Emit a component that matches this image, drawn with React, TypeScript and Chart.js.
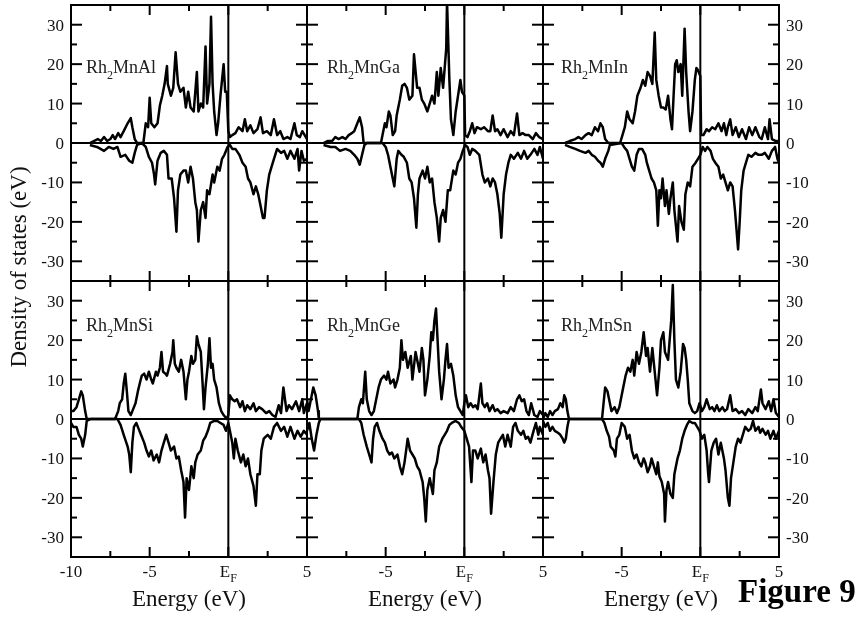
import React, { useEffect, useRef } from "react";
import { Chart, registerables } from "chart.js";

Chart.register(...registerables);

// ---------------- data (energy in eV, DOS) ----------------
const AL_UP: number[][] = [
  [-8.8, 0], [-8.55, 0.5], [-8.3, 1], [-8.1, 0.5], [-7.9, 1.5], [-7.7, 0.5], [-7.5, 1], [-7.35, 2], [-7.2, 1], [-7.0, 2.5],
  [-6.85, 1.5], [-6.65, 3], [-6.4, 5], [-6.2, 6.3], [-6.1, 4], [-5.95, 1], [-5.8, 0], [-5.4, 0], [-5.25, 5], [-5.1, 4],
  [-5.0, 11.5], [-4.9, 5], [-4.7, 4], [-4.5, 5], [-4.35, 9.5], [-4.2, 12], [-4.05, 15], [-3.9, 19.5], [-3.85, 15], [-3.65, 12],
  [-3.5, 14], [-3.35, 23], [-3.2, 15], [-3.05, 13], [-2.85, 14], [-2.7, 9], [-2.55, 13], [-2.4, 9], [-2.2, 8], [-2.0, 18],
  [-1.9, 8], [-1.75, 10], [-1.6, 9], [-1.45, 24.5], [-1.35, 10], [-1.2, 15], [-1.1, 32], [-1.0, 15], [-0.9, 8], [-0.75, 2],
  [-0.65, 5], [-0.5, 12], [-0.3, 20], [-0.2, 13], [-0.1, 13], [0, 3], [0.1, 1.5], [0.25, 2], [0.45, 2.5], [0.65, 4],
  [0.9, 3], [1.05, 6], [1.2, 3], [1.4, 4.5], [1.6, 2.5], [1.85, 3.5], [2.05, 6.5], [2.2, 2.5], [2.45, 3], [2.7, 2],
  [2.9, 6], [3.1, 2], [3.3, 3], [3.5, 1], [3.75, 1.5], [3.95, 1], [4.2, 5], [4.35, 2], [4.55, 1.5], [4.7, 3], [5, 1],
];
const AL_DN: number[][] = [
  [-8.8, -0.5], [-8.35, -1], [-7.9, -2], [-7.6, -1], [-7.3, -1.5], [-7.05, -1], [-6.85, -3.5], [-6.55, -3], [-6.3, -4.5], [-6.1, -5],
  [-5.95, -2.5], [-5.8, -0.5], [-5.5, 0], [-5.25, -1], [-5.05, -3.5], [-4.85, -5], [-4.72, -8], [-4.65, -10.5], [-4.5, -4.5], [-4.3, -2.5],
  [-4.1, -2], [-3.9, -3], [-3.8, -9], [-3.6, -9], [-3.45, -14], [-3.3, -22.5], [-3.2, -12], [-3.05, -8], [-2.85, -7], [-2.7, -7],
  [-2.55, -10], [-2.4, -6], [-2.25, -9], [-2.1, -15], [-2.0, -17], [-1.9, -25], [-1.75, -17], [-1.6, -15], [-1.45, -19], [-1.35, -12],
  [-1.2, -13], [-1.0, -8], [-0.9, -10], [-0.7, -6], [-0.55, -7], [-0.4, -4], [-0.25, -3], [-0.05, -1], [0.1, -0.5], [0.25, -1.5],
  [0.45, -1.5], [0.7, -3], [0.9, -5], [1.1, -6], [1.25, -9], [1.4, -10], [1.6, -13], [1.75, -11], [1.9, -13], [2.05, -16],
  [2.2, -19], [2.3, -19], [2.45, -12], [2.6, -8], [2.75, -6], [2.9, -4], [3.1, -1.5], [3.35, -2.5], [3.55, -2], [3.75, -4],
  [3.95, -2], [4.2, -4], [4.4, -1.5], [4.5, -7], [4.65, -2], [4.8, -4.5], [5, -4],
];
const GA_UP: number[][] = [
  [-8.95, 0], [-8.7, 0.5], [-8.4, 0.5], [-8.2, 1.5], [-8.0, 1], [-7.75, 1.5], [-7.55, 1], [-7.35, 2], [-7.15, 2.5], [-7.0, 3],
  [-6.8, 5], [-6.65, 6.5], [-6.5, 4], [-6.4, 0], [-5.3, 0], [-5.2, 2], [-5.05, 5], [-4.95, 4], [-4.8, 8], [-4.7, 7],
  [-4.55, 2], [-4.4, 3], [-4.3, 7], [-4.1, 11], [-3.95, 14.5], [-3.8, 15], [-3.65, 14], [-3.5, 11], [-3.3, 12], [-3.2, 22.5],
  [-3.0, 14], [-2.85, 14], [-2.7, 11], [-2.55, 10], [-2.35, 8], [-2.2, 10], [-2.05, 12], [-1.9, 10], [-1.75, 18], [-1.65, 12],
  [-1.5, 19], [-1.35, 14], [-1.15, 24], [-1.1, 36], [-0.95, 16], [-0.85, 6], [-0.7, 2], [-0.55, 8], [-0.4, 12], [-0.25, 16],
  [-0.15, 13], [0, 12], [0.05, 2], [0.2, 1.5], [0.35, 3], [0.5, 5], [0.65, 2.5], [0.8, 4], [1.05, 3.5], [1.25, 4],
  [1.5, 3], [1.65, 3], [1.8, 7], [1.95, 3], [2.1, 3.5], [2.3, 2], [2.5, 3.5], [2.75, 1.5], [2.95, 3], [3.15, 2],
  [3.35, 7.5], [3.5, 2], [3.7, 2.5], [3.9, 2], [4.1, 2], [4.35, 1], [4.55, 2.5], [4.75, 1.5], [5, 1],
];
const GA_DN: number[][] = [
  [-8.95, -0.5], [-8.5, -1], [-8.2, -1], [-7.9, -2], [-7.55, -1.5], [-7.25, -2], [-7.0, -3], [-6.8, -4], [-6.65, -5.5], [-6.5, -3],
  [-6.35, -0.5], [-6.2, 0], [-5.2, 0], [-5.0, -1], [-4.85, -3], [-4.7, -6], [-4.55, -9], [-4.45, -11], [-4.3, -4], [-4.2, -2],
  [-4.0, -3], [-3.85, -3.5], [-3.65, -5], [-3.5, -9], [-3.35, -10], [-3.2, -14], [-3.05, -21.5], [-2.95, -13], [-2.85, -9], [-2.65, -7],
  [-2.5, -9], [-2.35, -6], [-2.2, -10], [-2.05, -9], [-1.9, -15], [-1.75, -19], [-1.6, -25], [-1.5, -19], [-1.35, -17], [-1.2, -20],
  [-1.05, -12], [-0.9, -12], [-0.7, -7], [-0.55, -8], [-0.4, -5], [-0.25, -4], [-0.1, -2], [0.05, -0.5], [0.2, -1], [0.35, -3],
  [0.5, -1.5], [0.7, -2], [0.95, -3], [1.15, -8], [1.3, -10], [1.5, -9], [1.65, -11], [1.8, -9], [1.95, -10], [2.1, -13],
  [2.25, -18], [2.35, -24], [2.5, -13], [2.65, -8], [2.8, -5], [2.95, -3], [3.15, -4], [3.4, -2.5], [3.6, -4], [3.8, -2],
  [4.0, -4], [4.2, -3], [4.45, -1.5], [4.65, -3], [4.8, -1], [5, -4],
];
const IN_UP: number[][] = [
  [-8.6, 0], [-8.3, 0.5], [-7.95, 1], [-7.75, 1.5], [-7.55, 1], [-7.3, 2], [-7.1, 2.5], [-6.9, 2], [-6.7, 4], [-6.5, 3],
  [-6.35, 5], [-6.2, 4], [-6.05, 1], [-5.85, 0], [-5.1, 0], [-4.95, 2], [-4.8, 4], [-4.65, 8], [-4.5, 6], [-4.3, 5],
  [-4.15, 8], [-4.0, 12], [-3.8, 14], [-3.65, 16], [-3.5, 14.5], [-3.35, 18], [-3.2, 17], [-3.05, 15], [-2.9, 28], [-2.8, 16],
  [-2.65, 12], [-2.5, 9], [-2.35, 9], [-2.2, 8.5], [-2.05, 12], [-1.9, 6], [-1.8, 3.5], [-1.7, 12], [-1.6, 20], [-1.5, 21],
  [-1.4, 18], [-1.25, 20], [-1.15, 12], [-1.0, 29], [-0.9, 18], [-0.75, 8], [-0.65, 3], [-0.5, 8], [-0.35, 16], [-0.25, 19],
  [-0.15, 18.5], [0, 17], [0.05, 2], [0.2, 2], [0.4, 3.5], [0.55, 3], [0.75, 4], [0.95, 3.5], [1.15, 5], [1.35, 3],
  [1.5, 5], [1.65, 2], [1.75, 4], [1.9, 6], [2.05, 2], [2.25, 4], [2.45, 1.5], [2.65, 3.5], [2.9, 1], [3.1, 4],
  [3.3, 2], [3.5, 4], [3.75, 1.5], [3.9, 1], [4.1, 4], [4.3, 1], [4.4, 6], [4.55, 1], [4.8, 0.5], [5, 0.5],
];
const IN_DN: number[][] = [
  [-8.6, -0.5], [-8.3, -1], [-7.95, -1.5], [-7.65, -2], [-7.3, -2.5], [-7.1, -2], [-6.9, -3], [-6.7, -3.5], [-6.5, -4.5], [-6.35, -5],
  [-6.2, -6], [-6.05, -4], [-5.85, -2], [-5.75, -0.5], [-5.0, 0], [-4.85, -1], [-4.65, -2], [-4.5, -4], [-4.35, -6], [-4.2, -7],
  [-4.05, -3], [-3.9, -1.5], [-3.7, -1.5], [-3.5, -3], [-3.4, -5], [-3.25, -7], [-3.1, -9], [-2.95, -10], [-2.8, -12], [-2.7, -21],
  [-2.6, -12], [-2.5, -14], [-2.4, -9], [-2.25, -16], [-2.15, -12], [-2.0, -18], [-1.9, -14], [-1.75, -10], [-1.65, -17], [-1.55, -21],
  [-1.45, -25], [-1.35, -16], [-1.2, -20], [-1.05, -22], [-0.95, -13], [-0.8, -10], [-0.65, -11], [-0.5, -6], [-0.3, -5], [-0.15, -4],
  [0, -3], [0.15, -1], [0.3, -2], [0.45, -1], [0.65, -2], [0.8, -4], [0.95, -5], [1.15, -6], [1.3, -9], [1.45, -8],
  [1.6, -10], [1.75, -12], [1.9, -10], [2.05, -11], [2.2, -17], [2.3, -22], [2.4, -27], [2.5, -20], [2.6, -12], [2.75, -7],
  [2.9, -5], [3.05, -3], [3.25, -3.5], [3.5, -2.5], [3.7, -3], [3.9, -3], [4.1, -2.5], [4.35, -4], [4.55, -2], [4.75, -1],
  [4.9, -4], [5, -5],
];
const SI_UP: number[][] = [
  [-10, 2], [-9.85, 2], [-9.65, 3], [-9.5, 5], [-9.35, 7], [-9.25, 6], [-9.1, 2], [-9.0, 0], [-7.2, 0], [-7.0, 2],
  [-6.9, 4], [-6.75, 5], [-6.65, 9], [-6.55, 11.5], [-6.45, 7], [-6.35, 2], [-6.2, 1], [-6.05, 2.5], [-5.9, 4], [-5.75, 7],
  [-5.6, 9.5], [-5.5, 11], [-5.35, 11.5], [-5.2, 10], [-5.05, 12], [-4.9, 10], [-4.8, 9], [-4.6, 12], [-4.5, 11], [-4.35, 13],
  [-4.25, 17], [-4.15, 12], [-4.0, 11.5], [-3.9, 11], [-3.7, 14], [-3.55, 17], [-3.5, 20], [-3.4, 14], [-3.3, 13], [-3.15, 12],
  [-3.0, 15], [-2.85, 12], [-2.7, 5], [-2.6, 10], [-2.5, 12], [-2.35, 16], [-2.25, 14], [-2.1, 15], [-2.0, 21], [-1.9, 19],
  [-1.75, 17], [-1.65, 10], [-1.55, 2.5], [-1.45, 8], [-1.3, 14], [-1.2, 20.5], [-1.1, 13], [-1.0, 14], [-0.9, 10], [-0.75, 8],
  [-0.6, 4], [-0.45, 2], [-0.3, 1], [-0.1, 0], [0, 1], [0.1, 6], [0.25, 5], [0.4, 4.5], [0.55, 5], [0.75, 3],
  [0.9, 4.5], [1.05, 2], [1.2, 3.5], [1.4, 2.5], [1.6, 4], [1.75, 2], [1.95, 3], [2.15, 2.5], [2.4, 1.5], [2.6, 2],
  [2.8, 1], [3.0, 0.5], [3.2, 3.5], [3.35, 1.5], [3.5, 8], [3.7, 2], [3.85, 3.5], [4.05, 2.5], [4.3, 4.5], [4.5, 2],
  [4.7, 5], [4.8, 1.5], [5, 4],
];
const SI_DN: number[][] = [
  [-10, -1], [-9.85, -2], [-9.65, -2], [-9.5, -4], [-9.35, -5], [-9.25, -7], [-9.1, -4], [-9.0, -0.5], [-8.75, 0], [-7.05, 0],
  [-6.85, -1.5], [-6.65, -4], [-6.4, -7], [-6.3, -9], [-6.2, -13.5], [-6.1, -6], [-6.0, -2], [-5.85, -1], [-5.7, -2.5], [-5.55, -4],
  [-5.35, -6], [-5.2, -8], [-5.05, -9.5], [-4.9, -8], [-4.75, -10.5], [-4.55, -9], [-4.4, -11], [-4.25, -8], [-4.1, -6], [-3.95, -4],
  [-3.8, -6], [-3.65, -8], [-3.45, -7], [-3.3, -10], [-3.15, -9.5], [-3.0, -13], [-2.85, -16], [-2.75, -25], [-2.65, -15], [-2.5, -18],
  [-2.35, -12], [-2.2, -15], [-2.1, -11], [-1.95, -9], [-1.75, -8], [-1.6, -5.5], [-1.45, -4.5], [-1.3, -3], [-1.15, -1], [-0.9, -0.5],
  [-0.7, -0.5], [-0.5, -1], [-0.3, -1.5], [-0.15, -3], [0, -1], [0.1, -3], [0.25, -6], [0.35, -10], [0.45, -5], [0.6, -8],
  [0.8, -11], [0.95, -9], [1.1, -12], [1.25, -10], [1.4, -14], [1.6, -17], [1.75, -22], [1.85, -14], [2.0, -14], [2.1, -8],
  [2.25, -5], [2.5, -4], [2.7, -5], [2.9, -2], [3.1, -1], [3.35, -3], [3.55, -2], [3.75, -4.5], [3.95, -2], [4.2, -5],
  [4.4, -3], [4.6, -4.5], [4.8, -3], [5, -4],
];
const GE_UP: number[][] = [
  [-10, 5], [-9.9, 2], [-9.8, 4], [-9.6, 8], [-9.45, 6], [-9.3, 2], [-9.25, 0], [-6.8, 0], [-6.7, 3], [-6.55, 5],
  [-6.45, 4], [-6.3, 12], [-6.2, 5], [-6.05, 2], [-5.9, 1], [-5.75, 2], [-5.6, 5], [-5.45, 8], [-5.3, 10], [-5.1, 11],
  [-4.95, 10], [-4.85, 12], [-4.7, 9], [-4.5, 10], [-4.4, 8], [-4.25, 10], [-4.1, 13], [-4.0, 20], [-3.9, 15], [-3.75, 17],
  [-3.6, 13], [-3.4, 16], [-3.3, 10], [-3.1, 17], [-3.0, 15], [-2.85, 12], [-2.7, 18], [-2.6, 15], [-2.5, 6], [-2.35, 10],
  [-2.2, 16], [-2.1, 22], [-2.0, 20], [-1.9, 25], [-1.8, 28], [-1.7, 20], [-1.6, 12], [-1.45, 5], [-1.3, 10], [-1.2, 15],
  [-1.1, 19], [-1.0, 13], [-0.85, 14], [-0.7, 11], [-0.55, 6], [-0.4, 3], [-0.25, 2], [-0.1, 1], [0, 4], [0.1, 6],
  [0.25, 3], [0.4, 4], [0.55, 3], [0.7, 3.5], [0.85, 2.5], [1.05, 9], [1.15, 4], [1.3, 3], [1.45, 4], [1.6, 2],
  [1.8, 3.5], [1.95, 2], [2.1, 2.5], [2.3, 1.5], [2.5, 2], [2.75, 1.5], [2.95, 3], [3.15, 2], [3.35, 5], [3.5, 6],
  [3.65, 4.5], [3.8, 5], [3.95, 2], [4.1, 1], [4.25, 4], [4.45, 1], [4.65, 0.5], [4.8, 2], [5, 1],
];
const GE_DN: number[][] = [
  [-10, -3], [-9.85, -1], [-9.7, -5], [-9.55, -8], [-9.4, -4], [-9.25, -1], [-9.15, 0], [-6.7, 0], [-6.55, -1], [-6.4, -4],
  [-6.2, -7], [-6.05, -9], [-5.9, -11], [-5.8, -5], [-5.7, -2], [-5.55, -1], [-5.4, -3], [-5.2, -5], [-5.05, -6], [-4.9, -8],
  [-4.75, -9], [-4.6, -8.5], [-4.45, -10], [-4.25, -9], [-4.1, -12], [-3.95, -14], [-3.8, -11], [-3.6, -5], [-3.45, -8], [-3.3, -9],
  [-3.15, -10], [-3.0, -12], [-2.85, -13], [-2.65, -16], [-2.55, -20], [-2.45, -26], [-2.35, -18], [-2.2, -15], [-2.1, -17], [-2.0, -19],
  [-1.9, -13], [-1.75, -11], [-1.6, -7], [-1.4, -5], [-1.25, -4], [-1.1, -3], [-0.95, -1.5], [-0.8, -1], [-0.55, -0.5], [-0.35, -1],
  [-0.2, -2], [0, -3], [0.15, -5], [0.3, -7], [0.45, -16], [0.55, -8], [0.7, -8], [0.85, -10], [1.05, -7.5], [1.2, -11],
  [1.35, -9], [1.5, -13], [1.6, -15], [1.7, -24], [1.85, -16], [2.0, -9], [2.15, -6], [2.3, -5], [2.45, -4], [2.6, -7],
  [2.75, -4], [2.95, -7], [3.1, -2], [3.25, -1], [3.4, -3], [3.6, -4], [3.75, -3], [3.9, -5], [4.05, -4.5], [4.2, -6],
  [4.4, -3], [4.55, -1], [4.7, -4], [4.8, -2], [5, -4],
];
const SN_UP: number[][] = [
  [-10, 0], [-9.85, 1.5], [-9.7, 0.5], [-9.55, 2], [-9.4, 1], [-9.25, 2], [-9.05, 2.5], [-8.9, 4], [-8.75, 3], [-8.65, 6],
  [-8.55, 5], [-8.45, 2], [-8.35, 0], [-6.25, 0], [-6.15, 4], [-6.05, 8], [-5.9, 7], [-5.8, 5], [-5.65, 2], [-5.45, 3],
  [-5.3, 1.5], [-5.15, 3], [-5.0, 6], [-4.85, 9], [-4.75, 11], [-4.6, 13], [-4.45, 12], [-4.3, 15], [-4.2, 11], [-4.05, 17],
  [-3.9, 14], [-3.75, 17], [-3.6, 22], [-3.45, 16], [-3.35, 18], [-3.2, 12], [-3.05, 18], [-2.9, 12], [-2.75, 6], [-2.6, 13],
  [-2.5, 20], [-2.35, 22], [-2.25, 17], [-2.05, 15], [-1.95, 20], [-1.85, 25], [-1.75, 34], [-1.65, 20], [-1.55, 10], [-1.4, 8],
  [-1.25, 12], [-1.1, 19], [-1.0, 18], [-0.9, 15], [-0.8, 10], [-0.7, 4], [-0.5, 2], [-0.35, 1.5], [-0.2, 2], [-0.05, 4],
  [0.1, 2], [0.25, 3], [0.4, 5], [0.6, 2.5], [0.75, 3], [0.9, 2], [1.05, 3.5], [1.2, 2], [1.4, 3], [1.55, 2],
  [1.7, 2.5], [1.9, 6], [2.05, 2], [2.25, 2.5], [2.45, 1.5], [2.65, 2], [2.85, 1], [3.05, 2.5], [3.3, 1.5], [3.5, 3],
  [3.65, 2], [3.85, 7.5], [3.95, 4], [4.15, 2.5], [4.35, 4.5], [4.5, 2], [4.65, 5], [4.8, 1.5], [5, 0.5],
];
const SN_DN: number[][] = [
  [-10, -0.5], [-9.85, -2], [-9.7, -1], [-9.55, -3], [-9.4, -2], [-9.25, -3], [-9.05, -3.5], [-8.9, -4], [-8.75, -5], [-8.65, -6],
  [-8.55, -5], [-8.45, -2], [-8.35, 0], [-6.25, 0], [-6.1, -1], [-5.95, -3], [-5.8, -4.5], [-5.7, -7], [-5.5, -8], [-5.4, -9.5],
  [-5.3, -5], [-5.15, -4], [-5.0, -1], [-4.8, -2], [-4.65, -5], [-4.5, -4], [-4.35, -8], [-4.2, -10], [-4.05, -9], [-3.9, -11],
  [-3.75, -12], [-3.6, -10], [-3.5, -11], [-3.35, -13.5], [-3.2, -12], [-3.1, -10], [-2.95, -12], [-2.8, -14], [-2.7, -11], [-2.6, -14.5],
  [-2.45, -16], [-2.3, -19], [-2.25, -26], [-2.15, -18], [-2.05, -16], [-1.9, -19], [-1.75, -20], [-1.65, -14], [-1.55, -12], [-1.45, -10],
  [-1.3, -8], [-1.15, -5], [-1.0, -3], [-0.85, -1.5], [-0.7, -0.5], [-0.5, -1], [-0.35, -1], [-0.2, -2], [-0.05, -3], [0.1, -5],
  [0.25, -4], [0.4, -8], [0.5, -14], [0.55, -16], [0.7, -8], [0.85, -6], [1.0, -5], [1.15, -9], [1.3, -6], [1.5, -10],
  [1.6, -13], [1.75, -20], [1.85, -22], [1.95, -15], [2.1, -11], [2.25, -7], [2.4, -5], [2.55, -6], [2.7, -4], [2.85, -2],
  [3.05, -3], [3.2, -2.5], [3.35, -0.5], [3.5, -3], [3.7, -2], [3.8, -3.5], [3.95, -2.5], [4.15, -4], [4.3, -3], [4.45, -5],
  [4.65, -3], [4.8, -5], [4.9, -4], [5, -3],
];

// ---------------- axes ----------------
const X_MIN = -10;
const X_MAX = 5;
const Y_MIN = -35;
const Y_MAX = 35;
const X_MAJOR = [-10, -5, 0, 5];
const X_MINOR = [-7.5, -2.5, 2.5];
const Y_MAJOR = [-30, -20, -10, 0, 10, 20, 30];
const Y_MINOR = [-25, -15, -5, 5, 15, 25];
const X_TICK_LABELS = ["-10", "-5", "E", "5"]; // "E" gets subscript F
const Y_TICK_LABELS = ["-30", "-20", "-10", "0", "10", "20", "30"];

const COMPOUNDS = [
  ["Rh", "2", "MnAl"],
  ["Rh", "2", "MnGa"],
  ["Rh", "2", "MnIn"],
  ["Rh", "2", "MnSi"],
  ["Rh", "2", "MnGe"],
  ["Rh", "2", "MnSn"],
];
const UP_SERIES = [AL_UP, GA_UP, IN_UP, SI_UP, GE_UP, SN_UP];
const DOWN_SERIES = [AL_DN, GA_DN, IN_DN, SI_DN, GE_DN, SN_DN];

// ---------------- layout ----------------
const COL_LEFT = [71, 307, 543];
const ROW_TOP = [5, 281];
const PW = 236;
const PH = 276;
const PAD = { l: 45, r: 45, t: 10, b: 45 };
const LABEL_DX = [15, 20, 18];
const LABEL_DY = [68, 50];
const SERIF = '"Liberation Serif", "Times New Roman", serif';

function panelPlugin(idx: number) {
  const col = idx % 3;
  const row = Math.floor(idx / 3);
  return {
    id: "panelFrame" + idx,
    afterDatasetsDraw(chart: any) {
      const { ctx, chartArea: a, scales } = chart;
      const xs = scales.x;
      const ys = scales.y;
      ctx.save();
      ctx.strokeStyle = "#000";
      ctx.lineWidth = 2;
      ctx.lineCap = "butt";
      ctx.strokeRect(a.left, a.top, a.right - a.left, a.bottom - a.top);
      const seg = (x1: number, y1: number, x2: number, y2: number) => {
        ctx.beginPath();
        ctx.moveTo(x1, y1);
        ctx.lineTo(x2, y2);
        ctx.stroke();
      };
      X_MAJOR.forEach((v) => {
        const p = xs.getPixelForValue(v);
        seg(p, a.top, p, a.top + 10);
        seg(p, a.bottom, p, a.bottom - 10);
      });
      X_MINOR.forEach((v) => {
        const p = xs.getPixelForValue(v);
        seg(p, a.top, p, a.top + 6);
        seg(p, a.bottom, p, a.bottom - 6);
      });
      Y_MAJOR.forEach((v) => {
        const p = ys.getPixelForValue(v);
        seg(a.left, p, a.left + 11, p);
        seg(a.right, p, a.right - 11, p);
      });
      Y_MINOR.forEach((v) => {
        const p = ys.getPixelForValue(v);
        seg(a.left, p, a.left + 6, p);
        seg(a.right, p, a.right - 6, p);
      });

      ctx.fillStyle = "#111";
      ctx.textBaseline = "alphabetic";
      ctx.font = "17px " + SERIF;
      // y tick labels
      if (col === 0 || col === 2) {
        ctx.textAlign = col === 0 ? "right" : "left";
        const tx = col === 0 ? a.left - 7 : a.right + 7;
        Y_MAJOR.forEach((v, i) => {
          ctx.fillText(Y_TICK_LABELS[i], tx, ys.getPixelForValue(v) + 6);
        });
      }
      // x tick labels
      if (row === 1) {
        const by = a.bottom + 20;
        X_MAJOR.forEach((v, i) => {
          if (col > 0 && i === 0) return;
          const px = xs.getPixelForValue(v);
          const lab = X_TICK_LABELS[i];
          if (lab === "E") {
            ctx.font = "17px " + SERIF;
            const wE = ctx.measureText("E").width;
            ctx.font = "12px " + SERIF;
            const wF = ctx.measureText("F").width;
            const x0 = px - (wE + wF) / 2;
            ctx.textAlign = "left";
            ctx.font = "17px " + SERIF;
            ctx.fillText("E", x0, by);
            ctx.font = "12px " + SERIF;
            ctx.fillText("F", x0 + wE, by + 5);
            ctx.font = "17px " + SERIF;
          } else {
            ctx.textAlign = "center";
            ctx.fillText(lab, px, by);
          }
        });
      }
      // compound label with subscript
      const parts = COMPOUNDS[idx];
      let lx = a.left + LABEL_DX[col];
      const ly = a.top + LABEL_DY[row];
      ctx.textAlign = "left";
      ctx.fillStyle = "#222";
      ctx.font = "18px " + SERIF;
      ctx.fillText(parts[0], lx, ly);
      lx += ctx.measureText(parts[0]).width;
      ctx.font = "12px " + SERIF;
      ctx.fillText(parts[1], lx, ly + 6);
      lx += ctx.measureText(parts[1]).width;
      ctx.font = "18px " + SERIF;
      ctx.fillText(parts[2], lx, ly);
      ctx.restore();
    },
  };
}

function Panel({ idx }: { idx: number }) {
  const ref = useRef<HTMLCanvasElement | null>(null);
  const col = idx % 3;
  const row = Math.floor(idx / 3);
  const cw = PW + PAD.l + PAD.r;
  const chh = PH + PAD.t + PAD.b;
  useEffect(() => {
    if (!ref.current) return;
    const toXY = (arr: number[][]) => arr.map(([x, y]) => ({ x, y }));
    const lineStyle = {
      borderColor: "#000",
      borderWidth: 2.5,
      pointRadius: 0,
      tension: 0,
      fill: false,
      borderJoinStyle: "round" as const,
    };
    const chart = new Chart(ref.current, {
      type: "line",
      data: {
        datasets: [
          { ...lineStyle, borderWidth: 2, data: [{ x: X_MIN, y: 0 }, { x: X_MAX, y: 0 }] },
          { ...lineStyle, borderWidth: 2, data: [{ x: 0, y: Y_MIN }, { x: 0, y: Y_MAX }] },
          { ...lineStyle, data: toXY(UP_SERIES[idx]) },
          { ...lineStyle, data: toXY(DOWN_SERIES[idx]) },
        ],
      },
      options: {
        responsive: false,
        animation: false,
        events: [],
        layout: { padding: { left: PAD.l, right: PAD.r, top: PAD.t, bottom: PAD.b } },
        scales: {
          x: { type: "linear", min: X_MIN, max: X_MAX, display: false },
          y: { type: "linear", min: Y_MIN, max: Y_MAX, display: false },
        },
        plugins: { legend: { display: false }, tooltip: { enabled: false }, title: { display: false } },
      },
      plugins: [panelPlugin(idx)],
    } as any);
    return () => chart.destroy();
  }, [idx]);
  return (
    <canvas
      ref={ref}
      width={cw}
      height={chh}
      style={{
        position: "absolute",
        left: COL_LEFT[col] - PAD.l,
        top: ROW_TOP[row] - PAD.t,
        width: cw,
        height: chh,
        display: "block",
      }}
    />
  );
}

const textBase: React.CSSProperties = {
  position: "absolute",
  fontFamily: SERIF,
  color: "#111",
  whiteSpace: "nowrap",
};

export default function App() {
  return (
    <div
      style={{
        position: "fixed",
        left: 0,
        top: 0,
        width: 862,
        height: 622,
        background: "#fff",
        overflow: "hidden",
      }}
    >
      {[0, 1, 2, 3, 4, 5].map((i) => (
        <Panel key={i} idx={i} />
      ))}
      {[0, 1, 2].map((c) => (
        <div
          key={"xt" + c}
          style={{
            ...textBase,
            left: COL_LEFT[c] + PW / 2 - 100,
            width: 200,
            top: 587,
            fontSize: 23,
            lineHeight: "23px",
            textAlign: "center",
          }}
        >
          Energy (eV)
        </div>
      ))}
      <div
        style={{
          ...textBase,
          left: 18.5 - 150,
          top: 267 - 13,
          width: 300,
          height: 26,
          fontSize: 23,
          lineHeight: "26px",
          textAlign: "center",
          transform: "rotate(-90deg)",
        }}
      >
        Density of states (eV)
      </div>
      <div
        style={{
          ...textBase,
          left: 738,
          top: 575,
          fontSize: 33,
          lineHeight: "33px",
          fontWeight: "bold",
          color: "#000",
        }}
      >
        Figure 9
      </div>
    </div>
  );
}
